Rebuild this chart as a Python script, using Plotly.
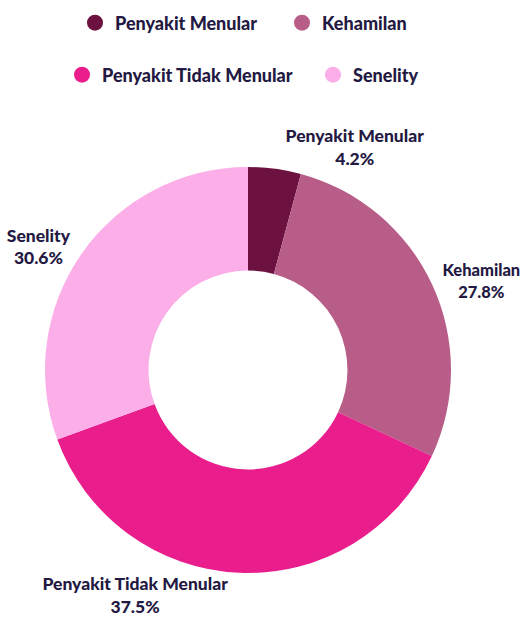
import plotly.graph_objects as go

labels = ["Penyakit Menular", "Kehamilan", "Penyakit Tidak Menular", "Senelity"]
values = [4.2, 27.8, 37.5, 30.6]
colors = ["#6d1240", "#b85c88", "#e91e8c", "#fbaee8"]

TEXT = "#231942"
FONT = dict(family="Lato, Open Sans, sans-serif", size=18, color=TEXT, weight=900)
label_sizes = [17.5, 16.5, 17.5, 17.5]
LABEL_FONT = dict(family="Lato, Open Sans, sans-serif", size=label_sizes, color=TEXT, weight=900)

fig = go.Figure()
fig.add_trace(go.Pie(
    labels=labels, values=values, hole=0.49, sort=False, direction="clockwise", rotation=0,
    marker=dict(colors=colors, line=dict(width=0)),
    textposition="outside", texttemplate="%{label}<br>%{percent:.1%}",
    outsidetextfont=LABEL_FONT, showlegend=False,
    domain=dict(x=[45/521, 451/521], y=[57/630, 463/630]),
    hoverinfo="label+percent",
))

# legend entries, one legend box per entry (two rows)
legend_names = ["legend", "legend2", "legend3", "legend4"]
legend_pos = [(75, 23), (282, 23), (62, 75), (313, 75)]
for lab, col, lg in zip(labels, colors, legend_names):
    fig.add_trace(go.Scatter(
        x=[None], y=[None], mode="markers", name=lab,
        marker=dict(color=col, size=20, symbol="circle"),
        legend=lg,
    ))

layout_legends = {}
for lg, (lx, ly) in zip(legend_names, legend_pos):
    layout_legends[lg] = dict(orientation="h", x=lx/521, xanchor="left", y=1-ly/630,
                              yanchor="middle", font=FONT, bgcolor="rgba(0,0,0,0)")

fig.update_layout(
    width=521, height=630,
    margin=dict(l=0, r=0, t=0, b=0, autoexpand=False),
    paper_bgcolor="white", plot_bgcolor="white",
    xaxis=dict(visible=False), yaxis=dict(visible=False),
    font=FONT,
    **layout_legends,
)

fig.write_html("out.html", config={"displayModeBar": False},
               post_script="document.body.style.margin='0';")
